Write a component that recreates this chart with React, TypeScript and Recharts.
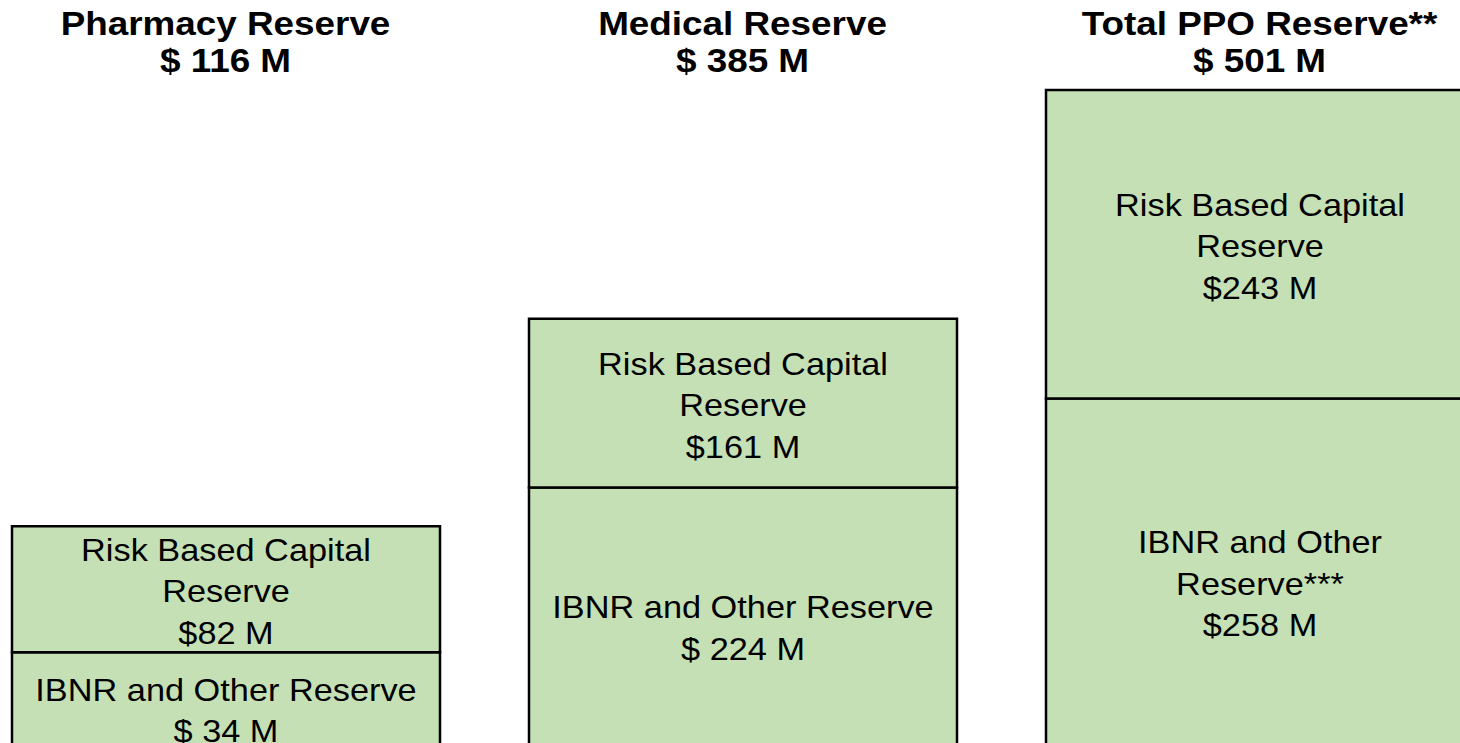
import React from "react";
import { BarChart, Bar, XAxis, YAxis, LabelList } from "recharts";

// Categories and headline totals
const categories = ["Pharmacy Reserve", "Medical Reserve", "Total PPO Reserve**"];
const totals = ["$ 116 M", "$ 385 M", "$ 501 M"];

// Drawn (not-to-scale) segment heights
const ibnrHeights = [113, 278, 367];
const rbcHeights = [126, 169, 309];

// Segment label texts (lines separated by "|")
const ibnrLabels = [
  "IBNR and Other Reserve|$ 34 M",
  "IBNR and Other Reserve|$ 224 M",
  "IBNR and Other|Reserve***|$258 M",
];
const rbcLabels = [
  "Risk Based Capital|Reserve|$82 M",
  "Risk Based Capital|Reserve|$161 M",
  "Risk Based Capital|Reserve|$243 M",
];

const data = categories.map((name, i) => ({
  name,
  ibnr: ibnrHeights[i],
  rbc: rbcHeights[i],
  ibnrText: ibnrLabels[i],
  rbcText: rbcLabels[i],
}));

const FONT = "'Liberation Sans', Arial, Helvetica, sans-serif";
const FILL = "#C5E0B4";
const CHART_W = 1551;
const CHART_H = 765;
const TOP_AXIS_H = 90;

function TitleTick(props: any) {
  const { x, payload } = props;
  const idx = categories.indexOf(payload.value);
  const lines = [payload.value, totals[idx]];
  const baselines = [35, 72];
  return (
    <g>
      {lines.map((t, i) => (
        <text
          key={i}
          transform={`translate(${x} ${baselines[i]}) scale(1.1 1)`}
          textAnchor="middle"
          fontFamily={FONT}
          fontWeight="bold"
          fontSize={33.5}
          fill="#000"
        >
          {t}
        </text>
      ))}
    </g>
  );
}

function SegmentLabel(props: any) {
  const { x, y, width, height, value } = props;
  if (value == null) return null;
  const lines = String(value).split("|");
  const cx = Number(x) + Number(width) / 2;
  const cy = Number(y) + Number(height) / 2 + 2;
  const lh = 41.5;
  const first = cy - ((lines.length - 1) * lh) / 2 + 11;
  return (
    <g>
      {lines.map((t, i) => (
        <text
          key={i}
          transform={`translate(${cx} ${first + i * lh}) scale(1.125 1)`}
          textAnchor="middle"
          fontFamily={FONT}
          fontSize={30.5}
          fill="#000"
        >
          {t}
        </text>
      ))}
    </g>
  );
}

export default function App() {
  return (
    <div
      style={{
        position: "absolute",
        left: 0,
        top: 0,
        width: 1460,
        height: 743,
        overflow: "hidden",
        background: "#fff",
      }}
    >
      <div style={{ position: "absolute", left: -33, top: 0 }}>
        <BarChart
          width={CHART_W}
          height={CHART_H}
          data={data}
          margin={{ top: 0, right: 0, bottom: 0, left: 0 }}
          barCategoryGap={0}
        >
          <XAxis
            dataKey="name"
            orientation="top"
            height={TOP_AXIS_H}
            axisLine={false}
            tickLine={false}
            interval={0}
            tick={(p: any) => <TitleTick {...p} />}
          />
          <YAxis hide type="number" domain={[0, CHART_H - TOP_AXIS_H]} />
          <Bar
            dataKey="ibnr"
            stackId="a"
            fill={FILL}
            stroke="#000"
            strokeWidth={2.5}
            barSize={428}
            isAnimationActive={false}
          >
            <LabelList dataKey="ibnrText" content={(p: any) => <SegmentLabel {...p} />} />
          </Bar>
          <Bar
            dataKey="rbc"
            stackId="a"
            fill={FILL}
            stroke="#000"
            strokeWidth={2.5}
            barSize={428}
            isAnimationActive={false}
          >
            <LabelList dataKey="rbcText" content={(p: any) => <SegmentLabel {...p} />} />
          </Bar>
        </BarChart>
      </div>
    </div>
  );
}
